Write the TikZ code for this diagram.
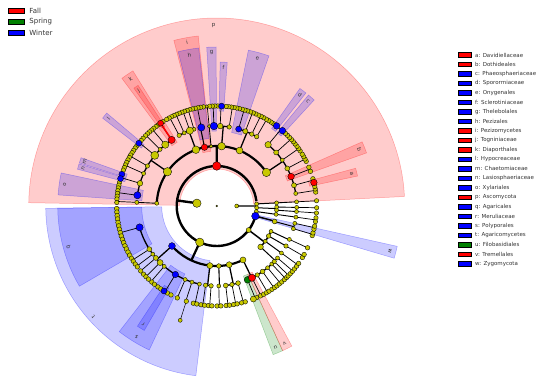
\documentclass[tikz,border=0pt]{standalone}
\usepackage{fontspec}
\setmainfont{DejaVu Sans}
\definecolor{yel}{RGB}{200,200,0}
\definecolor{grn}{RGB}{0,128,0}
\pgfdeclarelayer{shade}\pgfdeclarelayer{lines}
\pgfsetlayers{shade,lines,main}
\newcommand\Nd[4]{\filldraw[fill=#4,draw=black,line width=0.35pt] (#1:#2pt) circle[radius=#3pt];}
\newcommand\Gr[6]{\begin{pgfonlayer}{lines}\draw[line width=#6pt] (#1:#2pt) -- (#1:#3pt) (#4:#3pt) arc[start angle=#4,end angle=#5,radius=#3pt];\end{pgfonlayer}}
\newcommand\Cl[5]{\begin{pgfonlayer}{shade}\filldraw[fill=#5,draw=#5,fill opacity=0.2,draw opacity=0.3,line width=0.5pt] (#1:#3pt) arc[start angle=#1,end angle=#2,radius=#3pt] -- (#2:#4pt) arc[start angle=#2,end angle=#1,radius=#4pt] -- cycle;\end{pgfonlayer}}
\newcommand\Lb[3]{\node[font=\fontsize{5.5}{6}\selectfont,text=black!80,rotate={#1-90},inner sep=0pt] at (#1:#2pt) {#3};}
\newcommand\Ys[3]{\foreach \aa in {#2} {\Nd{\aa}{#1}{#3}{yel}}}
\begin{document}
\begin{tikzpicture}[x=1pt,y=1pt]
\useasboundingbox (-216.7,-179) rectangle (333.3,206);
% ---------- shading ----------
\Cl{2.9}{179}{37}{188}{red}
\Cl{180.8}{263}{55}{171}{blue}
\Cl{343.6}{347.4}{37}{185}{blue}
\Cl{96.2}{104.5}{55}{171}{red}
\Cl{180.8}{210.3}{75}{159}{blue}
\Cl{232.2}{244.9}{75}{159}{blue}
\Cl{168}{176}{75}{159}{blue}
\Cl{121.8}{126.6}{75}{159}{red}
\Cl{96.5}{104}{68}{159}{blue}
\Cl{90.2}{93.6}{75}{159}{blue}
\Cl{70.8}{78.5}{75}{159}{blue}
\Cl{19.5}{23.8}{75}{159}{red}
\Cl{290.8}{294.5}{75}{159}{grn}
\Cl{294.5}{298.2}{75}{159}{red}
\Cl{12}{15.2}{95}{144}{red}
\Cl{47.4}{50.4}{95}{144}{blue}
\Cl{51.7}{54.7}{95}{144}{blue}
\Cl{85.8}{88.6}{95}{144}{blue}
\Cl{123.1}{125.1}{95}{144}{red}
\Cl{139.8}{142.4}{95}{144}{blue}
\Cl{160.4}{162.6}{95}{144}{blue}
\Cl{163}{165.2}{95}{144}{blue}
\Cl{236.6}{239.8}{95}{144}{blue}
% labels
\Lb{91}{181}{p}\Lb{221.9}{166}{t}\Lb{345.5}{179}{w}\Lb{100.3}{166}{i}
\Lb{195.5}{153.5}{q}\Lb{238.5}{153.5}{s}\Lb{172}{153.5}{o}\Lb{124.2}{153.5}{k}
\Lb{100.2}{153.5}{h}\Lb{91.9}{153.5}{g}\Lb{74.6}{153.5}{e}\Lb{21.6}{153.5}{b}
\Lb{292.6}{153.5}{u}\Lb{296.3}{153.5}{v}
\Lb{13.6}{139}{a}\Lb{48.9}{139}{c}\Lb{53.2}{139}{d}\Lb{87.2}{139}{f}\Lb{124.1}{139}{j}
\Lb{141.1}{139}{l}\Lb{161.5}{139}{m}\Lb{164.1}{139}{n}\Lb{238.2}{139}{r}
% ---------- tree ----------
\Nd{0}{0}{0.9}{yel}
\Gr{172}{20}{40}{7}{345.4}{2.4}
\Gr{0}{20}{40}{352}{363}{1.2}
\Gr{352}{40}{60}{352}{352}{1}\Gr{352}{60}{80}{352}{352}{0.9}\Gr{352}{80}{100}{351}{353.2}{0.7}
\Gr{357.5}{40}{60}{356}{359}{1}\Gr{356}{60}{80}{356}{356}{0.9}\Gr{359}{60}{80}{359}{359}{0.9}
\Gr{356}{80}{100}{356}{356}{0.7}\Gr{359}{80}{100}{359}{359}{0.7}
\Gr{3}{40}{60}{3}{3}{1}\Gr{3}{60}{80}{3}{3}{0.9}\Gr{3}{80}{100}{3}{3}{0.7}
\Ys{40}{352,357.5,3}{2}\Ys{60}{352,356,359,3}{2}\Ys{80}{352,356,359,3}{2}\Ys{100}{351,353.2,356,359,3}{2.2}
% Ascomycota
\Gr{90}{40}{60}{34}{177.4}{2.2}
\Gr{34}{60}{80}{9}{50}{1.3}
\Gr{9}{80}{100}{8}{9.8}{0.7}\Gr{15}{80}{100}{11.3}{15.8}{0.7}\Gr{21.6}{80}{100}{20.3}{22.8}{0.7}
\Gr{28}{80}{100}{26.5}{31.2}{0.7}\Gr{35}{80}{100}{33.5}{36.6}{0.7}\Gr{42}{80}{100}{38.4}{43.2}{0.7}
\Gr{50}{80}{100}{45}{57}{0.7}
\Ys{80}{9,35}{2}\Ys{80}{15,28,42}{2.5}\Ys{80}{50}{3.2}
\Ys{100}{8,9.8,11.3,15.8,20.3,22.8,26.5,28,29.6,31.2,33.5,35,36.6,38.4,40,41.6,43.2,45,46.6,55.4,57}{2.3}
\Gr{67.6}{60}{80}{60}{74.1}{1.3}
\Gr{60}{80}{100}{58.6}{60.2}{0.7}\Gr{64}{80}{100}{62}{65.2}{0.7}\Gr{69}{80}{100}{67}{70.2}{0.7}
\Gr{74.1}{80}{100}{72}{78.4}{0.7}
\Ys{80}{60,64}{2.2}\Ys{80}{69}{2.6}
\Ys{100}{58.6,60.2,62,63.6,65.2,67,68.6,70.2,72,73.6,75.2,76.8,78.4}{2.3}
\Gr{85.3}{60}{80}{81}{92}{1.3}
\Gr{81}{80}{100}{80}{83}{0.7}\Gr{87.5}{80}{100}{84.6}{89.4}{0.7}\Gr{92}{80}{100}{91}{94}{0.7}
\Ys{80}{81}{2.2}\Ys{80}{87.5}{2.8}
\Ys{100}{80,81.5,83,84.6,89.4,91,92.5,94}{2.3}
\Gr{95.4}{60}{80}{95.4}{95.4}{0.9}\Gr{95.4}{80}{100}{95.4}{95.4}{0.7}
\Ys{80}{95.4}{1.8}\Ys{100}{95.8}{1.8}
\Gr{101.7}{60}{80}{101.1}{101.1}{1.1}\Gr{101.1}{80}{100}{97.6}{104}{0.7}
\Ys{100}{97.6,99.2,100.8,102.4,104}{2.3}
\Gr{110.3}{60}{80}{106.5}{118}{1.3}
\Gr{106.5}{80}{100}{105.6}{107.2}{0.7}\Gr{109.6}{80}{100}{108.8}{112}{0.7}
\Gr{114}{80}{100}{113.6}{115.2}{0.7}\Gr{118}{80}{100}{116.8}{120}{0.7}
\Ys{80}{106.5,114}{2}\Ys{80}{118}{2.2}\Ys{80}{109.6}{3.6}
\Ys{100}{105.6,107.2,108.8,110.4,112,113.6,115.2,116.8,118.4,120}{2.3}
\Gr{145.2}{60}{80}{124.3}{172.3}{1.3}
\Gr{124.3}{80}{100}{122.5}{125.8}{0.7}\Gr{130}{80}{100}{127.4}{132.2}{0.7}
\Gr{135}{80}{100}{133.8}{135.4}{0.7}\Gr{140.7}{80}{100}{137.4}{144.6}{0.7}
\Gr{150}{80}{100}{146.2}{152.6}{0.7}\Gr{156}{80}{100}{154.2}{157.4}{0.7}
\Gr{163.5}{80}{100}{159}{166.4}{0.7}\Gr{172.3}{80}{100}{168}{176}{0.7}
\draw[red,line width=1.6pt] (124.3:80pt) -- (124.1:100pt);
\Ys{80}{135,156}{2}\Ys{80}{150}{2.2}\Ys{80}{163.5}{2.8}\Ys{80}{130}{3.6}\Ys{80}{140.7}{4}
\Ys{100}{122.5,125.8,127.4,129,130.6,132.2,133.8,135.4,137.4,139.1,143,144.6,146.2,147.8,149.4,151,152.6,154.2,155.8,157.4,159,166.4,168,169.6,171.2,172.8,174.4,176}{2.3}
\Gr{177.4}{60}{80}{177.4}{177.4}{0.9}\Gr{177.4}{80}{100}{178}{178}{0.7}
\Ys{80}{177.4}{2}\Ys{100}{178}{2.2}
\Ys{60}{95.4}{1.8}\Ys{60}{177.4}{2}\Ys{60}{67.6}{3.4}\Ys{60}{85.3,110.3}{3.8}\Ys{60}{34,145.2}{4.2}
% Basidiomycota
\Gr{245}{40}{60}{221.8}{296}{2.2}
\Gr{221.8}{60}{80}{195.5}{257.5}{1.3}
\Gr{195.5}{80}{100}{181.5}{209.5}{0.7}\Gr{212.7}{80}{100}{211.5}{213.5}{0.7}
\Gr{217}{80}{100}{215.5}{217.5}{0.7}\Gr{220.5}{80}{100}{220.5}{220.5}{0.7}
\Gr{225}{80}{100}{223}{227}{0.7}\Gr{229}{80}{100}{229.5}{231.5}{0.7}
\Gr{238.9}{80}{100}{234}{242.8}{0.7}\Gr{246.8}{80}{100}{246.8}{246.8}{0.7}
\Gr{252}{80}{100}{252.3}{252.3}{0.7}\Gr{252.3}{100}{120}{252.3}{252.3}{0.5}
\Gr{257.5}{80}{100}{256.5}{258.5}{0.7}
\Ys{80}{217,229,246.8,252,257.5}{2}\Ys{80}{212.7,220.5}{2.5}\Ys{80}{225}{3}
\Ys{100}{181.5,183.5,...,209.5}{2.4}
\Ys{100}{211.5,213.5,215.5,217.5,220.5,223,225,227,229.5,231.5,234,236,240.5,242.8,246.8,252.3,256.5,258.5}{2.3}
\Ys{120}{252.3}{2}
\Gr{263.5}{60}{80}{262}{266}{1.3}
\Gr{262}{80}{100}{261}{263}{0.7}\Gr{266}{80}{100}{265.2}{267.2}{0.7}
\Gr{272}{60}{80}{271.5}{271.5}{1.1}\Gr{271.5}{80}{100}{270.2}{272.4}{0.7}
\Gr{282}{60}{80}{276.5}{285.5}{1.3}
\Gr{276.5}{80}{100}{275.4}{277.4}{0.7}\Gr{281}{80}{100}{279.8}{281.8}{0.7}\Gr{285.5}{80}{100}{284.4}{286.6}{0.7}
\Gr{296}{60}{80}{292.7}{313.5}{1.3}
\Gr{292.7}{80}{100}{291.5}{293.6}{0.7}\Gr{296.2}{80}{100}{296}{298}{0.7}
\Gr{300.5}{80}{100}{299.8}{301.6}{0.7}\Gr{305}{80}{100}{303.6}{307}{0.7}
\Gr{309.5}{80}{100}{308.8}{310.6}{0.7}\Gr{313.5}{80}{100}{312.6}{314.4}{0.7}
\Ys{80}{271.5,309.5,313.5}{2}\Ys{80}{262,266,281,300.5}{2.2}\Ys{80}{276.5,285.5,305}{2.4}
\Ys{100}{261,263,265.2,267.2,270.2,272.4,275.4,277.4,279.8,281.8,284.4,286.6,293.6,296,298,299.8,301.6,303.6,305.4,307,308.8,310.6,312.6,314.4}{2.3}
\Ys{100}{291.5}{3}
\Ys{60}{272}{2.3}\Ys{60}{263.5,282,296}{3}
% phylum X
\Gr{323}{40}{60}{317}{335}{1.5}
\Gr{317}{60}{80}{316}{319.5}{1}
\Gr{316}{80}{100}{315.6}{317.4}{0.7}\Gr{319.5}{80}{100}{319.2}{321}{0.7}
\Gr{324}{60}{80}{324}{324}{1}\Gr{324}{80}{100}{323}{325}{0.7}
\Gr{330}{60}{80}{330}{330}{1}\Gr{330}{80}{100}{329}{331}{0.7}
\Gr{335}{60}{80}{335.3}{335.3}{1}\Gr{335.3}{80}{100}{335.3}{335.3}{0.7}
\Ys{60}{324,335}{2}\Ys{60}{330}{2.3}\Ys{60}{317}{2.8}
\Ys{80}{319.5,324,335.3}{2}\Ys{80}{316,330}{2.2}
\Ys{100}{315.6,317.4,319.2,321,323,325,329,331,335.3}{2.3}
% w branch
\Gr{345.4}{40}{60}{345}{345}{1.5}
\Gr{345}{60}{80}{343.5}{347.5}{1}
\Gr{343.5}{80}{100}{342.8}{344.4}{0.7}\Gr{347.5}{80}{100}{346.6}{348.4}{0.7}
\Ys{60}{345}{2.4}\Ys{80}{343.5,347.5}{2}\Ys{100}{342.8,344.4,346.6,348.4}{2.3}
% phyla and kingdoms
\Ys{40}{323}{2.5}\Ys{40}{245}{4.2}
\Nd{172}{20}{4.2}{yel}\Nd{0}{20}{2}{yel}
% ---------- biomarkers ----------
\Nd{90}{40}{4.3}{red}\Nd{345.4}{40}{3.8}{blue}
\Nd{101.7}{60}{3.2}{red}\Nd{221.8}{60}{3.4}{blue}
\Nd{21.6}{80}{3.3}{red}\Nd{74.1}{80}{3}{blue}\Nd{92}{80}{3.8}{blue}\Nd{101.1}{80}{3.6}{blue}
\Nd{124.3}{80}{3.6}{red}\Nd{172.3}{80}{3.6}{blue}\Nd{195.5}{80}{3.6}{blue}\Nd{238.9}{80}{3.2}{blue}
\Nd{292.7}{80}{3.4}{grn}\Nd{296.2}{80}{3.6}{red}
\Nd{13.6}{100}{3.3}{red}\Nd{48.9}{100}{3.3}{blue}\Nd{53.2}{100}{3.3}{blue}\Nd{87.2}{100}{3}{blue}
\Nd{124.1}{100}{3}{red}\Nd{141.1}{100}{3}{blue}\Nd{161.5}{100}{3}{blue}\Nd{164.1}{100}{3}{blue}
\Nd{238.2}{100}{3}{blue}
% ---------- legends ----------
\foreach \tx/\cl [count=\i from 0] in {Fall/red,Spring/grn,Winter/blue} {
  \filldraw[fill=\cl,draw=black,line width=0.6pt] (-208.4,{195-11*\i-2.2}) rectangle (-192.7,{195-11*\i+2.2});
  \node[anchor=west,inner sep=0pt,font=\fontsize{7}{8}\selectfont,text=black!80] at (-187.5,{195-11*\i}) {\tx};
}
\foreach \lt/\cl/\tx [count=\i from 0] in {a/red/Davidiellaceae,b/red/Dothideales,c/blue/Phaeosphaeriaceae,d/blue/Sporormiaceae,e/blue/Onygenales,f/blue/Sclerotiniaceae,g/blue/Thelebolales,h/blue/Pezizales,i/red/Pezizomycetes,j/red/Togniniaceae,k/red/Diaporthales,l/blue/Hypocreaceae,m/blue/Chaetomiaceae,n/blue/Lasiosphaeriaceae,o/blue/Xylariales,p/red/Ascomycota,q/blue/Agaricales,r/blue/Meruliaceae,s/blue/Polyporales,t/blue/Agaricomycetes,u/grn/Filobasidiales,v/red/Tremellales,w/blue/Zygomycota} {
  \filldraw[fill=\cl,draw=black,line width=0.6pt] (241.6,{151-9.49*\i-2.2}) rectangle (255,{151-9.49*\i+2.2});
  \node[anchor=west,inner sep=0pt,font=\fontsize{5.5}{6.5}\selectfont,text=black!80] at (258.3,{151-9.49*\i}) {\lt: \tx};
}
\end{tikzpicture}
\end{document}
